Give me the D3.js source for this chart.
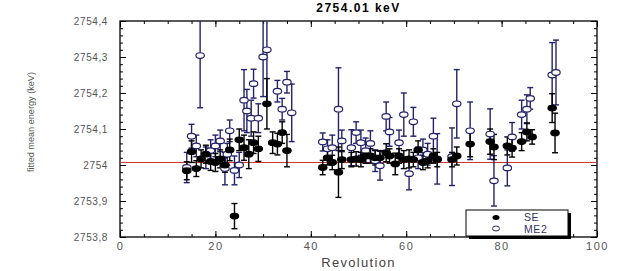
<!DOCTYPE html>
<html>
<head>
<meta charset="utf-8">
<script src="https://cdn.jsdelivr.net/npm/d3@7"></script>
<style>
  body { margin: 0; background: #fff; }
  text { font-family: "Liberation Sans", Arial, sans-serif; }
</style>
</head>
<body>
<div id="chart"></div>
<script>
var svgWidth = 619;
var svgHeight = 271;

var margin = { top: 21, right: 22, bottom: 34, left: 120 };
var width = svgWidth - margin.left - margin.right;
var height = svgHeight - margin.top - margin.bottom;

// SE series (filled)
var seRev = [14, 15, 16, 17, 18, 19, 20, 21, 22, 23, 24, 25, 26, 27, 28, 29, 30.8, 32, 33, 34, 35,
  42.5, 43.5, 44.5, 45.8, 46.5, 48.5, 49.5, 50.5, 51.5, 52.5, 53.5, 54.5, 55.8, 56.5, 57.7, 58.5, 59.5, 60.6, 61.5, 62.5, 63.5, 64.5, 65.7, 66.5,
  69.6, 70.6, 73.4, 77.6, 78.4, 81.2, 82.2, 84.2, 85.3, 86.4, 90.6, 91.2];
var seE = [2753.984, 2754.037, 2753.99, 2754.017, 2754.03, 2754.01, 2754.007, 2754.017, 2754.0, 2754.042, 2753.858, 2754.07, 2754.048, 2754.03, 2754.062, 2754.045, 2754.17, 2754.062, 2754.058, 2754.09, 2754.04,
  2753.993, 2754.02, 2754.007, 2753.98, 2754.015, 2754.015, 2754.017, 2754.015, 2754.025, 2754.025, 2754.02, 2754.02, 2754.034, 2754.025, 2754.003, 2754.025, 2754.015, 2754.017, 2754.015, 2754.042, 2754.007, 2754.012, 2754.025, 2754.015,
  2754.015, 2754.025, 2754.058, 2754.065, 2754.05, 2754.053, 2754.047, 2754.065, 2754.092, 2754.078, 2754.158, 2754.089];
var seErr = [0.025, 0.03, 0.022, 0.025, 0.025, 0.025, 0.025, 0.025, 0.02, 0.03, 0.035, 0.03, 0.035, 0.04, 0.03, 0.035, 0.07, 0.03, 0.03, 0.03, 0.045,
  0.02, 0.02, 0.02, 0.07, 0.025, 0.02, 0.02, 0.02, 0.02, 0.02, 0.02, 0.02, 0.025, 0.02, 0.03, 0.02, 0.025, 0.025, 0.02, 0.025, 0.02, 0.02, 0.02, 0.02,
  0.02, 0.025, 0.035, 0.035, 0.035, 0.025, 0.025, 0.025, 0.025, 0.02, 0.04, 0.055];

// ME2 series (open)
var meRev = [14, 15, 16, 16.8, 18, 19, 20, 21, 22, 22.5, 23, 24, 25, 26, 26.6, 27.5, 28, 29, 30, 30.8, 33, 34, 35, 36,
  42.5, 43.5, 44.5, 45.8, 46.5, 48.5, 49.5, 50.5, 51.5, 52.5, 53.5, 54.5, 55.8, 56.5, 58.5, 59.5, 60.6, 61.5, 62.5, 63.5, 64.5, 65.7, 66.5,
  69.6, 70.6, 73.4, 77.6, 78.4, 81.2, 82.2, 84.2, 85.3, 86.0, 90.6, 91.4];
var meE = [2753.993, 2754.08, 2754.053, 2754.304, 2754.02, 2754.04, 2754.053, 2754.067, 2753.99, 2754.03, 2754.095, 2753.985, 2754.0, 2754.18, 2754.15, 2754.13, 2754.226, 2754.13, 2754.3, 2754.32, 2754.205, 2754.155, 2754.23, 2754.145,
  2754.064, 2754.045, 2754.048, 2754.155, 2754.067, 2754.048, 2754.09, 2754.062, 2754.04, 2754.06, 2754.012, 2753.998, 2754.135, 2754.092, 2754.062, 2754.14, 2753.976, 2754.12, 2754.02, 2754.042, 2754.03, 2754.08, 2754.017,
  2754.023, 2754.17, 2754.095, 2754.086, 2753.956, 2753.992, 2754.078, 2754.14, 2754.155, 2754.185, 2754.25, 2754.257];
var meErr = [0.042, 0.033, 0.03, 0.145, 0.03, 0.03, 0.03, 0.03, 0.045, 0.03, 0.03, 0.04, 0.035, 0.085, 0.06, 0.05, 0.04, 0.04, 0.11, 0.15, 0.03, 0.03, 0.03, 0.08,
  0.025, 0.025, 0.035, 0.115, 0.03, 0.05, 0.03, 0.035, 0.035, 0.035, 0.03, 0.04, 0.04, 0.04, 0.035, 0.06, 0.045, 0.04, 0.03, 0.03, 0.03, 0.05, 0.07,
  0.08, 0.095, 0.08, 0.07, 0.07, 0.05, 0.04, 0.04, 0.04, 0.03, 0.09, 0.09];

var refEnergy = 2754.007;

var xTicks = [0, 20, 40, 60, 80, 100];
var yTicks = [2753.8, 2753.9, 2754.0, 2754.1, 2754.2, 2754.3, 2754.4];
var yTickLabels = ["2753,8", "2753,9", "2754", "2754,1", "2754,2", "2754,3", "2754,4"];

var navy = "#23236b";

var svg = d3.select("#chart")
  .append("svg")
  .attr("width", svgWidth)
  .attr("height", svgHeight);

var chartGroup = svg.append("g")
  .attr("transform", `translate(${margin.left}, ${margin.top})`);

var xScale = d3.scaleLinear().domain([0, 100]).range([0, width]);
var yScale = d3.scaleLinear().domain([2753.8, 2754.4]).range([height, 0]);

svg.append("defs").append("clipPath").attr("id", "plotclip")
  .append("rect").attr("width", width).attr("height", height);

function styleAxis(g) {
  g.select(".domain").remove();
  g.selectAll(".tick line").attr("stroke", "#000");
  g.selectAll(".tick text").attr("fill", "#555").attr("font-size", "10px");
}

// minor ticks
var xMinor = d3.range(0, 101, 5);
var yMinor = d3.range(0, 31).map(i => 2753.8 + i * 0.02);

chartGroup.append("g").attr("transform", `translate(0, ${height})`)
  .call(d3.axisBottom(xScale).tickValues(xMinor).tickFormat("").tickSize(-3)).call(styleAxis);
chartGroup.append("g")
  .call(d3.axisTop(xScale).tickValues(xMinor).tickFormat("").tickSize(-3)).call(styleAxis);
chartGroup.append("g")
  .call(d3.axisLeft(yScale).tickValues(yMinor).tickFormat("").tickSize(-3)).call(styleAxis);
chartGroup.append("g").attr("transform", `translate(${width}, 0)`)
  .call(d3.axisRight(yScale).tickValues(yMinor).tickFormat("").tickSize(-3)).call(styleAxis);

// major ticks
chartGroup.append("g").attr("transform", `translate(0, ${height})`)
  .call(d3.axisBottom(xScale).tickValues(xTicks).tickSize(-6).tickPadding(5)).call(styleAxis)
  .selectAll(".tick text").attr("font-size", "11px").attr("letter-spacing", "1.5px");
chartGroup.append("g")
  .call(d3.axisTop(xScale).tickValues(xTicks).tickFormat("").tickSize(-6)).call(styleAxis);
chartGroup.append("g")
  .call(d3.axisLeft(yScale).tickValues(yTicks).tickFormat((d, i) => yTickLabels[i]).tickSize(-6).tickPadding(12)).call(styleAxis)
  .selectAll(".tick text").attr("letter-spacing", "0.6px");
chartGroup.append("g").attr("transform", `translate(${width}, 0)`)
  .call(d3.axisRight(yScale).tickValues(yTicks).tickFormat("").tickSize(-6)).call(styleAxis);

// frame
chartGroup.append("rect")
  .attr("width", width).attr("height", height)
  .attr("fill", "none").attr("stroke", "#000").attr("stroke-width", 1.3);

// reference line
chartGroup.append("line")
  .attr("x1", 0).attr("x2", width)
  .attr("y1", yScale(refEnergy)).attr("y2", yScale(refEnergy))
  .attr("stroke", "#d03030").attr("stroke-width", 1);

var plot = chartGroup.append("g").attr("clip-path", "url(#plotclip)");

function drawSeries(revs, vals, errs, color) {
  var data = revs.map((r, i) => ({ r: r, e: vals[i], s: errs[i] }));
  var bars = plot.append("g").selectAll(null).data(data).enter().append("g")
    .attr("stroke", color).attr("stroke-width", 1.4);
  bars.append("line")
    .attr("x1", d => xScale(d.r)).attr("x2", d => xScale(d.r))
    .attr("y1", d => yScale(d.e - d.s)).attr("y2", d => yScale(d.e + d.s));
  bars.append("line")
    .attr("x1", d => xScale(d.r) - 3).attr("x2", d => xScale(d.r) + 3)
    .attr("y1", d => yScale(d.e - d.s)).attr("y2", d => yScale(d.e - d.s));
  bars.append("line")
    .attr("x1", d => xScale(d.r) - 3).attr("x2", d => xScale(d.r) + 3)
    .attr("y1", d => yScale(d.e + d.s)).attr("y2", d => yScale(d.e + d.s));
  return data;
}

function drawMarkers(data, color, filled) {
  plot.append("g").selectAll("ellipse").data(data).enter().append("ellipse")
    .attr("cx", d => xScale(d.r)).attr("cy", d => yScale(d.e))
    .attr("rx", 4.2).attr("ry", 2.8)
    .attr("fill", filled ? "#000" : "#fff")
    .attr("stroke", color).attr("stroke-width", 1.2);
}

var meData = drawSeries(meRev, meE, meErr, navy);
var seData = drawSeries(seRev, seE, seErr, "#000");
drawMarkers(meData, navy, false);
drawMarkers(seData, "#000", true);

// legend
var lx = 466, ly = 210, lw = 102, lh = 26;
svg.append("rect").attr("x", lx + 3).attr("y", ly + 3).attr("width", lw).attr("height", lh).attr("fill", "#000");
svg.append("rect").attr("x", lx).attr("y", ly).attr("width", lw).attr("height", lh)
  .attr("fill", "#fff").attr("stroke", "#000").attr("stroke-width", 1);
svg.append("ellipse").attr("cx", lx + 30).attr("cy", ly + 7.5).attr("rx", 3.5).attr("ry", 2.5).attr("fill", "#000");
svg.append("ellipse").attr("cx", lx + 30).attr("cy", ly + 18.5).attr("rx", 3.5).attr("ry", 2.5)
  .attr("fill", "#fff").attr("stroke", navy).attr("stroke-width", 1);
svg.append("text").attr("x", lx + 58).attr("y", ly + 11).attr("font-size", "10.5px").attr("fill", "#333366")
  .attr("letter-spacing", "0.6px").text("SE");
svg.append("text").attr("x", lx + 58).attr("y", ly + 22.5).attr("font-size", "10.5px").attr("fill", "#333366")
  .attr("letter-spacing", "0.6px").text("ME2");

// titles
svg.append("text")
  .attr("x", margin.left + width / 2).attr("y", 12)
  .attr("text-anchor", "middle").attr("font-size", "12px").attr("font-weight", "bold")
  .attr("letter-spacing", "1.5px")
  .text("2754.01 keV");

svg.append("text")
  .attr("x", margin.left + width / 2).attr("y", 267)
  .attr("text-anchor", "middle").attr("font-size", "13px").attr("fill", "#444")
  .attr("letter-spacing", "1.3px")
  .text("Revolution");

svg.append("text")
  .attr("transform", `translate(34, 122) rotate(-90)`)
  .attr("text-anchor", "middle").attr("font-size", "9.5px").attr("fill", "#555")
  .attr("textLength", 100).attr("lengthAdjust", "spacingAndGlyphs")
  .text("fitted mean energy (keV)");
</script>
</body>
</html>
